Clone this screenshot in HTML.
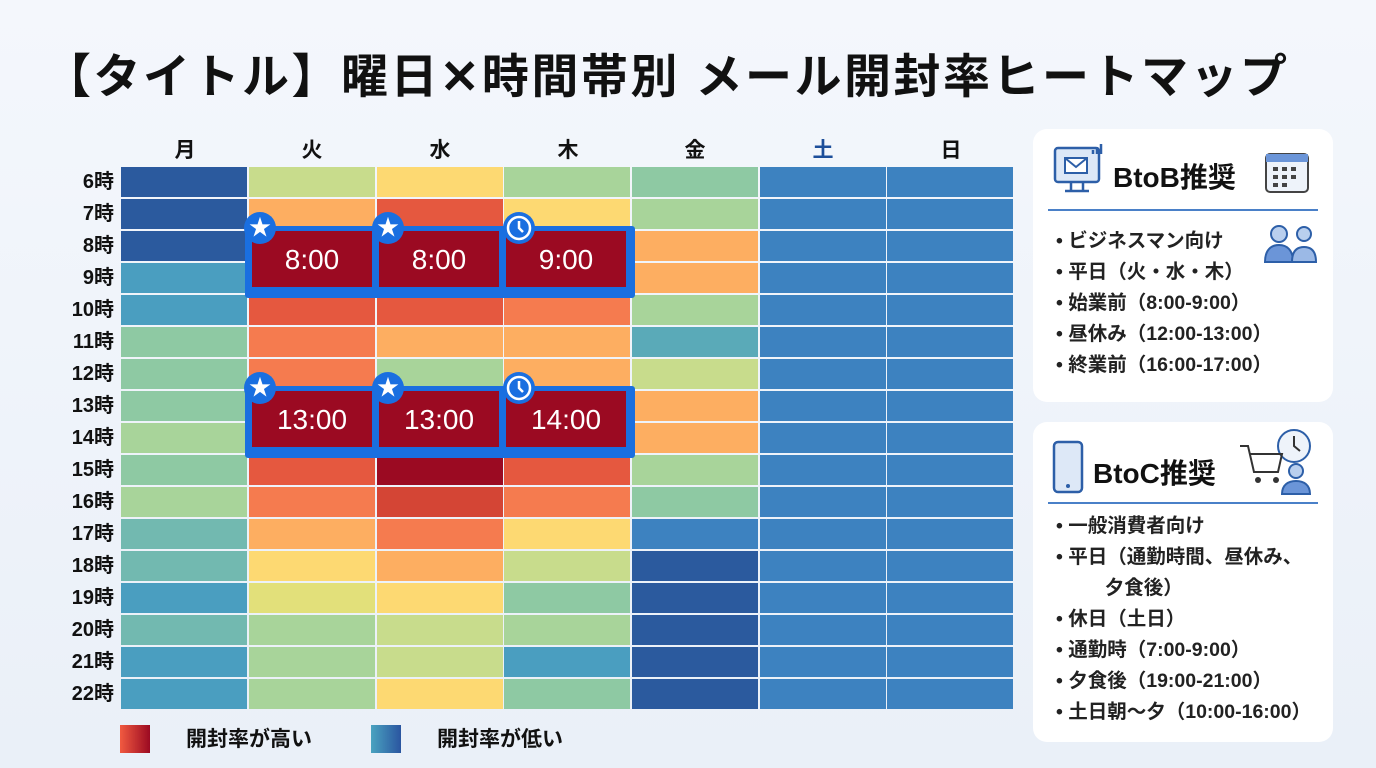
<!DOCTYPE html>
<html><head><meta charset="utf-8">
<style>
*{margin:0;padding:0;box-sizing:border-box}
body{width:1376px;height:768px;overflow:hidden;background:linear-gradient(180deg,#f4f7fc,#eaf0f8);font-family:"Liberation Sans","Noto Sans CJK JP",sans-serif;position:relative;color:#111}
.a{position:absolute}
.title{left:44px;top:38px;font-size:47px;font-weight:700;letter-spacing:2.5px;white-space:nowrap}
.ch{top:134px;width:128px;text-align:center;font-size:21px;font-weight:700}
.rl{left:40px;width:74px;text-align:right;font-size:20px;font-weight:700;height:32px;line-height:32px}
.c{position:absolute;height:30px;width:126px}
.hl{border:5px solid #1a6fe0;border-radius:3px;background:#1a6fe0}
.rc{position:absolute;background:#9b0a22;color:#fff;font-size:28px;text-align:center;width:120px;height:56px;line-height:58px;top:4px}
.ic{position:absolute;width:32px;height:32px;border-radius:50%;background:#1a6fe0;color:#fff;text-align:center;line-height:32px;font-size:22px}
.panel{background:#fff;border-radius:14px;left:1033px;width:300px}
.ph{font-size:28px;font-weight:700}
.li{font-size:19.5px;font-weight:700;color:#222;white-space:nowrap;line-height:31px}
.lg{top:725px;width:30px;height:28px}
.lt{top:723px;font-size:21px;font-weight:700}
</style></head><body>
<div class="a title">【タイトル】曜日<span style="font-family:'Noto Sans CJK JP',sans-serif">✕</span>時間帯別 メール開封率ヒートマップ</div>

<div class="a ch" style="left:121px">月</div>
<div class="a ch" style="left:248px">火</div>
<div class="a ch" style="left:376px">水</div>
<div class="a ch" style="left:504px">木</div>
<div class="a ch" style="left:631px">金</div>
<div class="a ch" style="left:759px;color:#1d4f9a">土</div>
<div class="a ch" style="left:887px">日</div>

<div id="grid" class="a" style="left:0;top:0"></div>
<div id="labels"></div>

<div class="a hl" style="left:245px;top:226px;width:390px;height:72px"></div>
<div class="a hl" style="left:245px;top:386px;width:390px;height:72px"></div>
<div class="a" style="left:250px;top:227px"><div class="rc" style="left:2px">8:00</div><div class="rc" style="left:129px">8:00</div><div class="rc" style="left:256px">9:00</div></div>
<div class="a" style="left:250px;top:387px"><div class="rc" style="left:2px">13:00</div><div class="rc" style="left:129px">13:00</div><div class="rc" style="left:256px">14:00</div></div>

<div class="ic" style="left:244px;top:212px">★</div>
<div class="ic" style="left:372px;top:212px">★</div>
<div class="ic" style="left:503px;top:212px"><svg width="32" height="32"><circle cx="16" cy="16" r="11" fill="none" stroke="#fff" stroke-width="2.5"/><path d="M16 9v7l4 4" stroke="#fff" stroke-width="2.5" fill="none"/></svg></div>
<div class="ic" style="left:244px;top:372px">★</div>
<div class="ic" style="left:372px;top:372px">★</div>
<div class="ic" style="left:503px;top:372px"><svg width="32" height="32"><circle cx="16" cy="16" r="11" fill="none" stroke="#fff" stroke-width="2.5"/><path d="M16 9v7l4 4" stroke="#fff" stroke-width="2.5" fill="none"/></svg></div>

<div class="a lg" style="left:120px;background:linear-gradient(90deg,#f15a40,#9b0a22)"></div>
<div class="a lt" style="left:186px">開封率が高い</div>
<div class="a lg" style="left:371px;background:linear-gradient(90deg,#4aa3c0,#2a55a0)"></div>
<div class="a lt" style="left:437px">開封率が低い</div>

<div class="a panel" style="top:129px;height:273px"></div>
<svg class="a" style="left:1053px;top:140px" width="60" height="56"><rect x="2" y="8" width="44" height="34" rx="3" fill="#dde8f7" stroke="#2d5fa8" stroke-width="2.5"/><rect x="12" y="18" width="22" height="15" fill="#fff" stroke="#2d5fa8" stroke-width="2"/><path d="M12 18l11 9 11-9" fill="none" stroke="#2d5fa8" stroke-width="2"/><path d="M18 42v8M30 42v8M12 51h24" stroke="#2d5fa8" stroke-width="2.5"/><path d="M40 14v-4M44 14v-7M48 14v-10" stroke="#2d5fa8" stroke-width="2.5"/></svg>
<div class="a ph" style="left:1113px;top:156px">BtoB推奨</div>
<svg class="a" style="left:1264px;top:148px" width="48" height="48"><rect x="2" y="6" width="42" height="38" rx="4" fill="#eef3fa" stroke="#444" stroke-width="2"/><rect x="2" y="6" width="42" height="8" fill="#6b95d8"/><g fill="#444"><rect x="9" y="19" width="5" height="4"/><rect x="18" y="19" width="5" height="4"/><rect x="27" y="19" width="5" height="4"/><rect x="9" y="27" width="5" height="4"/><rect x="18" y="27" width="5" height="4"/><rect x="27" y="27" width="5" height="4"/><rect x="9" y="35" width="5" height="4"/><rect x="18" y="35" width="5" height="4"/></g></svg>
<div class="a" style="left:1048px;top:209px;width:270px;height:2px;background:#4a80c8"></div>
<div class="a li" style="left:1056px;top:226px">• ビジネスマン向け<br>• 平日（火・水・木）<br>• 始業前（8:00-9:00）<br>• 昼休み（12:00-13:00）<br>• 終業前（16:00-17:00）</div>
<svg class="a" style="left:1262px;top:220px" width="58" height="44"><circle cx="17" cy="14" r="8" fill="#b9cfee" stroke="#2d5fa8" stroke-width="2"/><path d="M3 42c0-12 6-17 14-17s14 5 14 17z" fill="#6b95d8" stroke="#2d5fa8" stroke-width="2"/><circle cx="42" cy="14" r="7" fill="#b9cfee" stroke="#2d5fa8" stroke-width="2"/><path d="M30 42c0-11 5-15 12-15s12 4 12 15z" fill="#9bb9e6" stroke="#2d5fa8" stroke-width="2"/></svg>

<div class="a panel" style="top:422px;height:320px"></div>
<svg class="a" style="left:1052px;top:440px" width="34" height="56"><rect x="2" y="2" width="28" height="50" rx="4" fill="#dde8f7" stroke="#2d5fa8" stroke-width="2.5"/><circle cx="16" cy="46" r="2" fill="#2d5fa8"/></svg>
<div class="a ph" style="left:1093px;top:452px">BtoC推奨</div>
<svg class="a" style="left:1238px;top:428px" width="80" height="70"><circle cx="56" cy="18" r="16" fill="#eef3fa" stroke="#2d5fa8" stroke-width="2"/><path d="M56 8v10l6 5" stroke="#333" stroke-width="2" fill="none"/><path d="M2 18h8l6 26h24l4-18H12" fill="none" stroke="#333" stroke-width="2"/><circle cx="20" cy="52" r="3" fill="#333"/><circle cx="38" cy="52" r="3" fill="#333"/><circle cx="58" cy="43" r="7" fill="#b9cfee" stroke="#2d5fa8" stroke-width="2"/><path d="M44 66c0-9 6-13 14-13s14 4 14 13z" fill="#6b95d8" stroke="#2d5fa8" stroke-width="2"/></svg>
<div class="a" style="left:1048px;top:502px;width:270px;height:2px;background:#4a80c8"></div>
<div class="a li" style="left:1056px;top:511px">• 一般消費者向け<br>• 平日（通勤時間、昼休み、<br>&nbsp;&nbsp;&nbsp;&nbsp;&nbsp;&nbsp;&nbsp;&nbsp;&nbsp;夕食後）<br>• 休日（土日）<br>• 通勤時（7:00-9:00）<br>• 夕食後（19:00-21:00）<br>• 土日朝〜夕（10:00-16:00）</div>

<script>
var P={DB:'#2b5a9e',B:'#3d82c0',TB:'#4a9ec0',T:'#72b9b0',G:'#8ec9a3',LG:'#a8d49a',YG:'#c8dc8c',YY:'#e2e07a',Y:'#fdd972',LO:'#fdae61',O:'#f57b4f',R:'#e5583f',R2:'#d44535',DR:'#9b0a22',TE:'#5aaab8'};
var rows=[
['DB','YG','Y','LG','G','B','B'],
['DB','LO','R','Y','LG','B','B'],
['DB','DR','DR','DR','LO','B','B'],
['TB','DR','DR','DR','LO','B','B'],
['TB','R','R','O','LG','B','B'],
['G','O','LO','LO','TE','B','B'],
['G','O','LG','LO','YG','B','B'],
['G','DR','DR','DR','LO','B','B'],
['LG','DR','DR','DR','LO','B','B'],
['G','R','DR','R','LG','B','B'],
['LG','O','R2','O','G','B','B'],
['T','LO','O','Y','B','B','B'],
['T','Y','LO','YG','DB','B','B'],
['TB','YY','Y','G','DB','B','B'],
['T','LG','YG','LG','DB','B','B'],
['TB','LG','YG','TB','DB','B','B'],
['TB','LG','Y','G','DB','B','B']];
var xs=[121,249,377,504,632,760,887],h='',l='';
rows.forEach(function(r,i){var y=167+i*32;r.forEach(function(k,j){h+='<div class="c" style="left:'+xs[j]+'px;top:'+y+'px;background:'+P[k]+'"></div>';});
l+='<div class="a rl" style="top:'+(y-1)+'px">'+(6+i)+'時</div>';});
document.getElementById('grid').innerHTML=h;document.getElementById('labels').innerHTML=l;
</script>
</body></html>
